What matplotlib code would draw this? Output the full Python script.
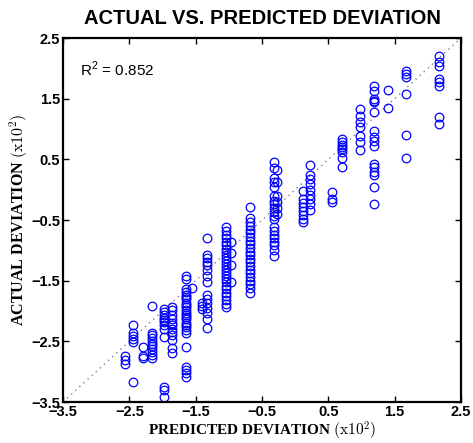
import matplotlib
matplotlib.use("Agg")
import matplotlib.pyplot as plt
import numpy as np

plt.rcParams['mathtext.fontset'] = 'custom'
plt.rcParams['mathtext.rm'] = 'Liberation Sans'

# predicted value of each column of points (x10^2)
col_pred = [-2.57, -2.44, -2.29, -2.16, -1.98, -1.86, -1.65, -1.55, -1.40, -1.33,
            -1.04, -0.97, -0.68, -0.32, -0.27, 0.12, 0.22, 0.56, 0.71, 0.98,
            1.19, 1.40, 1.67, 2.17]
# actual values in each column (x10^2)
col_actual = [
    [-2.74, -2.80, -2.87],
    [-2.23, -2.36, -2.41, -2.46, -2.51, -3.17],
    [-2.59, -2.74, -2.77],
    [-1.91, -2.36, -2.40, -2.45, -2.49, -2.54, -2.58, -2.62, -2.67, -2.72, -2.77],
    [-1.96, -2.01, -2.06, -2.11, -2.15, -2.18, -2.23, -2.29, -2.43, -3.25, -3.30, -3.42],
    [-1.93, -1.98, -2.06, -2.14, -2.19, -2.23, -2.29, -2.34, -2.39, -2.48, -2.61, -2.69],
    [-1.43, -1.48, -1.64, -1.68, -1.73, -1.77, -1.81, -1.86, -1.90, -1.93, -1.98, -2.03,
     -2.06, -2.10, -2.14, -2.19, -2.23, -2.26, -2.31, -2.36, -2.59, -2.92, -2.97, -3.02, -3.09],
    [-1.62],
    [-1.86, -1.91, -1.96],
    [-0.79, -1.07, -1.13, -1.19, -1.24, -1.32, -1.43, -1.53, -1.73, -1.81, -1.86, -1.95,
     -2.03, -2.14, -2.28],
    [-0.62, -0.68, -0.74, -0.80, -0.86, -0.92, -0.98, -1.03, -1.08, -1.13, -1.18, -1.23,
     -1.28, -1.33, -1.38, -1.43, -1.48, -1.53, -1.58, -1.63, -1.70, -1.76, -1.82, -1.88, -1.93],
    [-0.86, -1.04, -1.24, -1.53],
    [-0.29, -0.46, -0.54, -0.60, -0.66, -0.72, -0.78, -0.84, -0.90, -0.96, -1.02, -1.08,
     -1.14, -1.20, -1.26, -1.32, -1.38, -1.44, -1.50, -1.56, -1.62, -1.70],
    [0.45, 0.35, 0.19, 0.12, 0.04, -0.11, -0.18, -0.24, -0.30, -0.36, -0.43, -0.49,
     -0.62, -0.68, -0.74, -0.80, -0.86, -0.92, -0.99, -1.09],
    [0.32, 0.12, -0.10, -0.20, -0.30, -0.40],
    [-0.03, -0.16, -0.22, -0.28, -0.35, -0.42, -0.48, -0.54],
    [0.40, 0.25, 0.17, 0.09, 0.00, -0.08, -0.16, -0.24, -0.33],
    [-0.045, -0.16, -0.21],
    [0.83, 0.78, 0.74, 0.70, 0.665, 0.615, 0.53, 0.37],
    [1.33, 1.21, 1.11, 1.03, 0.88, 0.78, 0.65],
    [1.71, 1.62, 1.49, 1.46, 1.44, 1.28, 0.96, 0.86, 0.80, 0.715, 0.42, 0.38, 0.29, 0.25,
     0.04, -0.24],
    [1.64, 1.34],
    [1.955, 1.905, 1.855, 1.57, 0.90, 0.52],
    [2.20, 2.10, 2.04, 1.82, 1.77, 1.71, 1.19, 1.08],
]
ticks = [-3.5, -2.5, -1.5, -0.5, 0.5, 1.5, 2.5]
tick_labels = ['\u22123.5', '\u22122.5', '\u22121.5', '\u22120.5', '0.5', '1.5', '2.5']
r2_text = 'R$^{\\mathrm{2}}$ = 0.852'

pred = []
actual = []
for xv, ys in zip(col_pred, col_actual):
    for yv in ys:
        pred.append(xv)
        actual.append(yv)

fig = plt.figure(figsize=(4.73, 4.43), dpi=100)
ax = fig.add_axes([63/473, 1-402/443, (461-63)/473, (402-38)/443])

ax.plot([ticks[0], ticks[-1]], [ticks[0], ticks[-1]], linestyle=(0, (1, 3)),
        color='#808080', linewidth=1.0, zorder=1)
ax.plot(pred, actual, linestyle='none', marker='o', markersize=6.2,
        markerfacecolor='none', markeredgecolor='#0000ff', markeredgewidth=0.9, zorder=2)

ax.set_xlim(ticks[0], ticks[-1])
ax.set_ylim(ticks[0], ticks[-1])
ax.set_xticks(ticks)
ax.set_yticks(ticks)
ax.set_xticklabels(tick_labels, fontfamily='Liberation Sans', fontweight='bold', fontsize=10.5)
ax.set_yticklabels(tick_labels, fontfamily='Liberation Sans', fontweight='bold', fontsize=10.5)
ax.tick_params(direction='in', length=4, width=1, top=True, right=True, pad=2)
for s in ax.spines.values():
    s.set_linewidth(1.6)

ax.set_title('ACTUAL VS. PREDICTED DEVIATION', fontfamily='Liberation Sans',
             fontweight='bold', fontsize=14.5, pad=10)
ax.set_xlabel('PREDICTED DEVIATION $(\\mathrm{x}10^2)$', fontfamily='Liberation Serif',
              fontweight='bold', fontsize=11, math_fontfamily='cm', labelpad=1)
ax.set_ylabel('ACTUAL DEVIATION $(\\mathrm{x}10^2)$', fontfamily='Liberation Serif',
              fontweight='bold', fontsize=11.5, math_fontfamily='cm', labelpad=1)
ax.text(0.043, 0.915, r2_text, transform=ax.transAxes, fontfamily='Liberation Sans',
        fontsize=11, va='center', ha='left')

fig.savefig('out.png', dpi=100)
